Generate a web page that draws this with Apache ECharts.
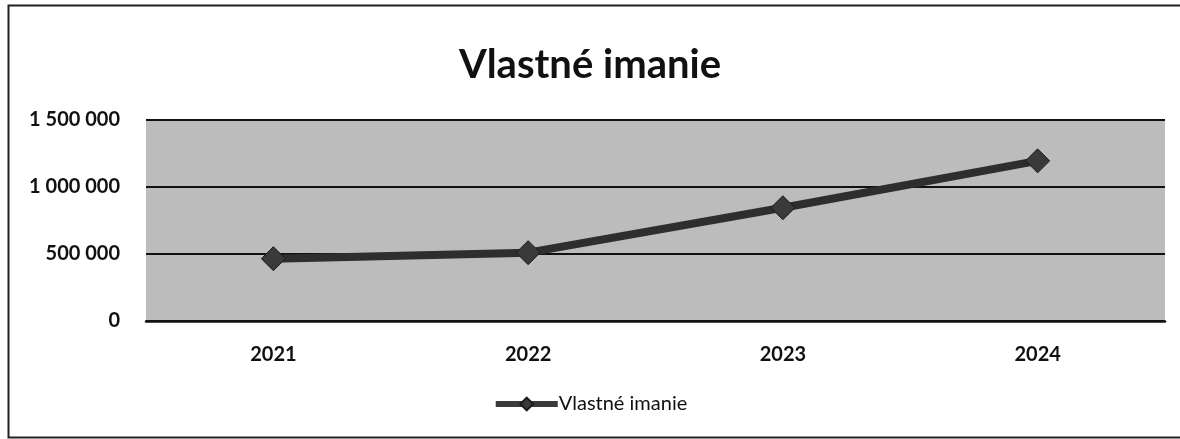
<!DOCTYPE html>
<html>
<head>
<meta charset="utf-8">
<script src="https://cdn.jsdelivr.net/npm/echarts@6/dist/echarts.min.js"></script>
<style>
	html, body { margin: 0; padding: 0; background: #fff; }
	#chart { width: 1180px; height: 439px; }
</style>
</head>
<body>
<div id="chart"></div>
<script>
	// roky a hodnoty vlastného imania
	var years = ['2021', '2022', '2023', '2024'];
	var equity = [465000, 510000, 845000, 1195000];
	var yTicks = [0, 500000, 1000000, 1500000];

	var chart = echarts.init(document.getElementById('chart'));

	// medzera ako oddeľovač tisícov
	function fmt(v) {
		return String(v).replace(/\B(?=(\d{3})+(?!\d))/g, ' ');
	}

	var option = {
		backgroundColor: '#ffffff',
		textStyle: { fontFamily: 'Lato, "Open Sans", sans-serif' },
		graphic: [{
			type: 'rect',
			shape: { x: 8.5, y: 5.5, width: 1220, height: 432 },
			style: { fill: 'none', stroke: '#222', lineWidth: 2 },
			silent: true
		}],
		title: {
			text: 'Vlastné imanie',
			left: 'center',
			top: 40,
			textStyle: { fontSize: 40, fontWeight: 'bold', color: '#111', fontFamily: 'Lato, sans-serif' }
		},
		legend: {
			bottom: 20,
			left: 'center',
			itemWidth: 62,
			itemHeight: 16,
			itemGap: 2,
			lineStyle: { width: 6, color: '#3a3a3a' },
			textStyle: { fontSize: 20, color: '#111', padding: [0, 0, 0, -4] },
			data: ['Vlastné imanie']
		},
		grid: {
			left: 146,
			right: 15,
			top: 120,
			bottom: 118,
			show: true,
			backgroundColor: '#bcbcbc',
			borderWidth: 0
		},
		xAxis: {
			type: 'category',
			data: years,
			boundaryGap: true,
			axisLine: { show: true, lineStyle: { color: '#111', width: 2.5 } },
			axisTick: { show: false },
			axisLabel: { fontSize: 20, fontWeight: 'bold', color: '#111', margin: 24 }
		},
		yAxis: {
			type: 'value',
			min: yTicks[0],
			max: yTicks[yTicks.length - 1],
			interval: 500000,
			axisLine: { show: false },
			axisTick: { show: false },
			axisLabel: { fontSize: 20, fontWeight: 'bold', color: '#111', margin: 26, formatter: fmt },
			splitLine: { show: true, lineStyle: { color: '#111', width: 1.8 } }
		},
		series: [{
			name: 'Vlastné imanie',
			type: 'line',
			data: equity,
			symbol: 'diamond',
			symbolSize: 24,
			lineStyle: { color: '#2e2e2e', width: 8 },
			itemStyle: { color: '#3a3a3a', borderColor: '#1a1a1a', borderWidth: 1 }
		}]
	};

	chart.setOption(option);
</script>
</body>
</html>
